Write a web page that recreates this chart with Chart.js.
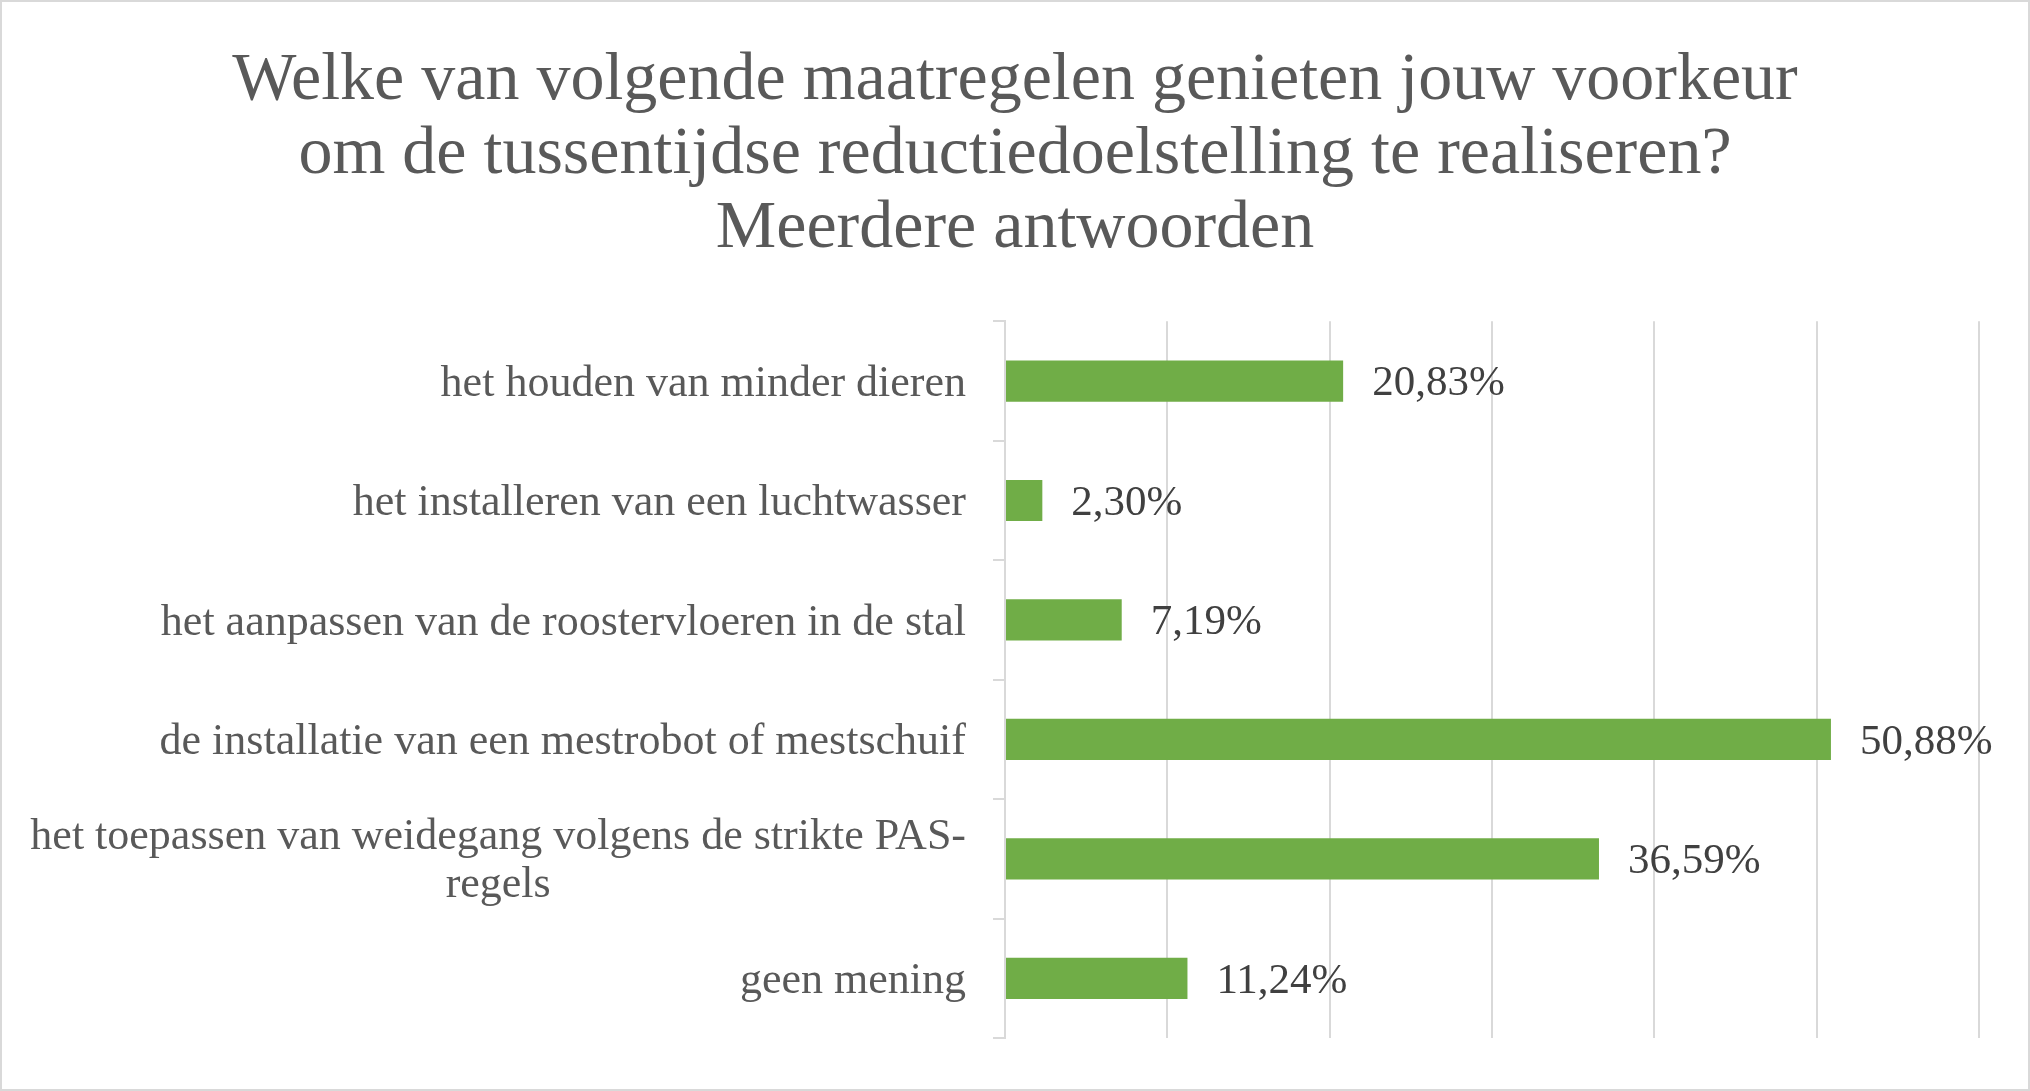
<!DOCTYPE html>
<html>
<head>
<meta charset="utf-8">
<script src="https://cdn.jsdelivr.net/npm/chart.js@4"></script>
<style>
  body { margin: 0; background: #fff; }
  #wrap { width: 2030px; height: 1091px; box-sizing: border-box; border: 2px solid #d9d9d9; position: relative; }
</style>
</head>
<body>
<div id="wrap"><canvas id="barChart"></canvas></div>
<script>
'use strict';

// data
const titleLines = [
  'Welke van volgende maatregelen genieten jouw voorkeur',
  'om de tussentijdse reductiedoelstelling te realiseren?',
  'Meerdere antwoorden'
];
const categories = [
  ['het houden van minder dieren'],
  ['het installeren van een luchtwasser'],
  ['het aanpassen van de roostervloeren in de stal'],
  ['de installatie van een mestrobot of mestschuif'],
  ['het toepassen van weidegang volgens de strikte PAS-', 'regels'],
  ['geen mening']
];
const percentages = [20.83, 2.30, 7.19, 50.88, 36.59, 11.24];
const axisMax = 60;
const axisStep = 10;

const serif = "'Liberation Serif', 'DejaVu Serif', serif";
const ctx = document.getElementById('barChart').getContext('2d');

function fmt(v) {
  return v.toFixed(2).replace('.', ',') + '%';
}

// value labels at the end of each bar
const valueLabels = {
  id: 'valueLabels',
  afterDatasetsDraw(chart) {
    const c = chart.ctx;
    const meta = chart.getDatasetMeta(0);
    c.save();
    c.font = '43px ' + serif;
    c.fillStyle = '#404040';
    c.textAlign = 'left';
    c.textBaseline = 'middle';
    meta.data.forEach((bar, i) => {
      c.fillText(fmt(percentages[i]), bar.x + 29, bar.y + 3);
    });
    c.restore();
  }
};

// category labels: block right aligned, lines centred within the block
const categoryLabels = {
  id: 'categoryLabels',
  afterDraw(chart) {
    const c = chart.ctx;
    const yScale = chart.scales.y;
    const right = chart.chartArea.left - 39;
    const lineH = 48;
    c.save();
    c.font = '44px ' + serif;
    c.fillStyle = '#595959';
    c.textAlign = 'center';
    c.textBaseline = 'middle';
    categories.forEach((lines, i) => {
      const y = yScale.getPixelForTick(i);
      const w = Math.max(...lines.map(l => c.measureText(l).width));
      const cx = right - w / 2;
      const y0 = y - (lines.length - 1) * lineH / 2;
      lines.forEach((l, j) => c.fillText(l, cx, y0 + j * lineH + 3));
    });
    c.restore();
  }
};

function renderChart() {
  const chartObj = {
    type: 'bar',
    data: {
      labels: categories,
      datasets: [{
        data: percentages,
        backgroundColor: '#70ad47',
        borderWidth: 0,
        categoryPercentage: 0.5,
        barPercentage: 0.69
      }]
    },
    options: {
      indexAxis: 'y',
      responsive: true,
      maintainAspectRatio: false,
      animation: false,
      layout: {
        padding: { top: 42, right: 49, bottom: 51, left: 49 }
      },
      plugins: {
        legend: { display: false },
        tooltip: { enabled: false },
        title: {
          display: true,
          text: titleLines,
          color: '#595959',
          font: { family: serif, size: 68, weight: 'normal', lineHeight: 1.09 },
          padding: { top: 0, bottom: 55 }
        }
      },
      scales: {
        x: {
          min: 0,
          max: axisMax,
          ticks: { display: false, stepSize: axisStep },
          grid: { color: '#d9d9d9', lineWidth: 2, drawTicks: false },
          border: { display: false }
        },
        y: {
          afterFit(scale) { scale.width = 954; },
          ticks: { display: false },
          grid: {
            offset: true,
            drawOnChartArea: false,
            drawTicks: true,
            tickLength: 12,
            color: '#d9d9d9',
            lineWidth: 2
          },
          border: { color: '#d9d9d9', width: 2 }
        }
      }
    },
    plugins: [valueLabels, categoryLabels]
  };
  new Chart(ctx, chartObj);
}

renderChart();
</script>
</body>
</html>
